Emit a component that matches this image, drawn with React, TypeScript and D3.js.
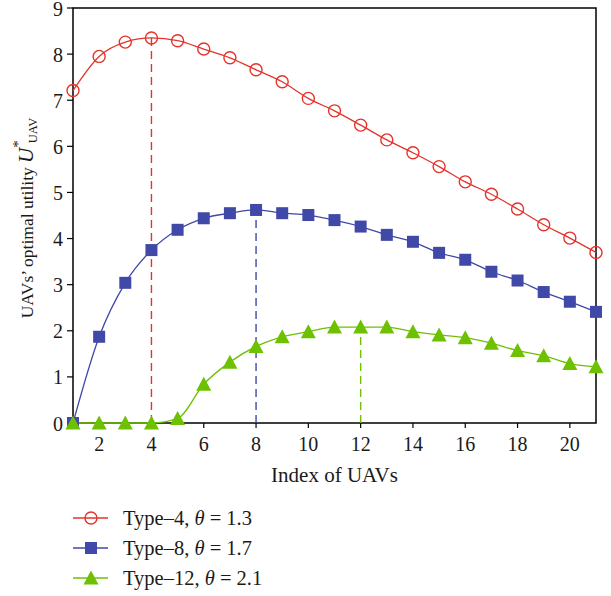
import React from "react";
import * as d3 from "d3";

const xIndex = [1, 2, 3, 4, 5, 6, 7, 8, 9, 10, 11, 12, 13, 14, 15, 16, 17, 18, 19, 20, 21];
const type4 = [7.21, 7.95, 8.26, 8.35, 8.29, 8.11, 7.92, 7.66, 7.40, 7.04, 6.77, 6.46, 6.14, 5.86, 5.56, 5.23, 4.96, 4.64, 4.30, 4.01, 3.70];
const type8 = [0.0, 1.87, 3.04, 3.75, 4.19, 4.44, 4.55, 4.62, 4.55, 4.51, 4.40, 4.26, 4.08, 3.93, 3.69, 3.54, 3.28, 3.09, 2.84, 2.63, 2.41];
const type12 = [0.0, 0.0, 0.0, 0.0, 0.1, 0.84, 1.32, 1.66, 1.87, 1.98, 2.08, 2.08, 2.08, 1.98, 1.91, 1.85, 1.73, 1.57, 1.46, 1.29, 1.22];
const xTicks = [2, 4, 6, 8, 10, 12, 14, 16, 18, 20];
const yTicks = [0, 1, 2, 3, 4, 5, 6, 7, 8, 9];
const peakIndex = [4, 8, 12];
const legendLabels = [
  { type: "Type\u20134, ", theta: "1.3" },
  { type: "Type\u20138, ", theta: "1.7" },
  { type: "Type\u201312, ", theta: "2.1" },
];

const RED = "#e3342b";
const BLUE = "#4048a8";
const GREEN = "#6dc100";
const colors = [RED, BLUE, GREEN];
const FONT = "'Liberation Serif', 'Times New Roman', serif";
const TXT = "#1a1a1a";

const left = 73, right = 596, top = 8, bottom = 423;

export default function App() {
  const x = d3.scaleLinear().domain([1, 21]).range([left, right]);
  const y = d3.scaleLinear().domain([0, 9]).range([bottom, top]);
  const series = [type4, type8, type12];
  const line = d3
    .line<[number, number]>()
    .x((d) => x(d[0]))
    .y((d) => y(d[1]))
    .curve(d3.curveMonotoneX);

  const marker = (k: number, cx: number, cy: number, key: string) => {
    if (k === 0)
      return <circle key={key} cx={cx} cy={cy} r={6} fill="none" stroke={RED} strokeWidth={1.4} />;
    if (k === 1)
      return <rect key={key} x={cx - 6} y={cy - 6} width={12} height={12} fill={BLUE} />;
    const h = 13, w = 15;
    return (
      <path
        key={key}
        d={`M${cx},${cy - h / 2 - 1}L${cx + w / 2},${cy + h / 2}L${cx - w / 2},${cy + h / 2}Z`}
        fill={GREEN}
      />
    );
  };

  return (
    <svg width={611} height={596} style={{ position: "absolute", left: 0, top: 0 }} fontFamily={FONT}>
      <rect width={611} height={596} fill="#fff" />
      {/* frame */}
      <rect x={left} y={top} width={right - left} height={bottom - top} fill="none" stroke="#000" strokeWidth={1.5} />
      {/* ticks */}
      {xTicks.map((t) => (
        <g key={"xt" + t}>
          <line x1={x(t)} x2={x(t)} y1={bottom} y2={bottom + 5} stroke="#000" strokeWidth={1.2} />
          <text x={x(t)} y={bottom + 28} fontSize={20} textAnchor="middle" fill={TXT}>{t}</text>
        </g>
      ))}
      {yTicks.map((t) => (
        <g key={"yt" + t}>
          <line x1={left - 6} x2={left} y1={y(t)} y2={y(t)} stroke="#000" strokeWidth={1.2} />
          <text x={left - 10} y={y(t) + 7.5} fontSize={20} textAnchor="end" fill={TXT}>{t}</text>
        </g>
      ))}
      {/* dashed peaks */}
      {peakIndex.map((p, k) => (
        <line
          key={"pk" + k}
          x1={x(p)}
          x2={x(p)}
          y1={y(0)}
          y2={y(series[k][xIndex.indexOf(p)])}
          stroke={colors[k]}
          strokeWidth={1.4}
          strokeDasharray="8,5"
        />
      ))}
      {/* lines */}
      {series.map((s, k) => (
        <path
          key={"ln" + k}
          d={line(xIndex.map((xi, i) => [xi, s[i]] as [number, number])) || ""}
          fill="none"
          stroke={colors[k]}
          strokeWidth={1.3}
        />
      ))}
      {/* markers */}
      {series.map((s, k) => (
        <g key={"mk" + k}>{xIndex.map((xi, i) => marker(k, x(xi), y(s[i]), `m${k}-${i}`))}</g>
      ))}
      {/* axis labels */}
      <text x={(left + right) / 2} y={482} fontSize={21} textAnchor="middle" fill={TXT}>Index of UAVs</text>
      <text transform={`translate(33, 218) rotate(-90)`} fontSize={17.5} textAnchor="middle" fill={TXT}>
        UAVs’ optimal utility{" "}
        <tspan fontStyle="italic" fontSize={21}>U</tspan>
        <tspan dy={-10} fontSize={15}>*</tspan>
        <tspan dy={14} dx={-3} fontSize={12.5}>UAV</tspan>
      </text>
      {/* legend */}
      {legendLabels.map((l, k) => {
        const cy = 518 + k * 30;
        return (
          <g key={"lg" + k}>
            <line x1={73} x2={108} y1={cy} y2={cy} stroke={colors[k]} strokeWidth={1.3} />
            {marker(k, 91, cy, "lgm" + k)}
            <text x={123} y={cy + 7} fontSize={20.5} fill={TXT}>
              {l.type}
              <tspan fontStyle="italic">θ</tspan>
              {" = " + l.theta}
            </text>
          </g>
        );
      })}
    </svg>
  );
}
